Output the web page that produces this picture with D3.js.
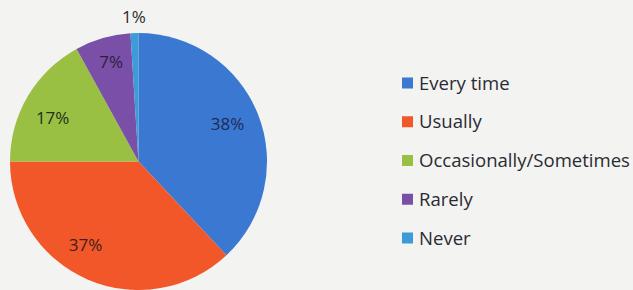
<!DOCTYPE html>
<html><head><meta charset="utf-8">
<script src="https://cdn.jsdelivr.net/npm/d3@7"></script>
<style>
html,body{margin:0;padding:0;background:#f3f3f1;}
svg{display:block;}
text{font-family:"Open Sans","Noto Sans",sans-serif;}
</style></head>
<body>
<svg id="c" width="633" height="290"></svg>
<script>
const categories = ["Every time","Usually","Occasionally/Sometimes","Rarely","Never"];
const values = [38,37,17,7,1];
const labels = ["38%","37%","17%","7%","1%"];
const colors = ["#3a78d2","#f2572a","#9ac043","#7a4fa8","#3d9bd8"];
const labelColors = ["#1f2a55","#3a2020","#22301a","#2a1f3a","#2b2b2b"];

const svg = d3.select("#c");
const cx = 138.5, cy = 161.5, r = 128.5;
const pie = d3.pie().sort(null).value(d=>d)(values);
const arc = d3.arc().innerRadius(0).outerRadius(r);
const g = svg.append("g").attr("transform",`translate(${cx},${cy})`);
g.selectAll("path").data(pie).join("path")
  .attr("d",arc).attr("fill",(d,i)=>colors[i]);

// label placement: fraction of radius and angular offset (deg) from slice bisector
const radF = [0.75,0.77,0.75,0.80,1.125];
const angOff = [-1,9,-3.6,0.8,0];
g.selectAll("text.lbl").data(pie).join("text").attr("class","lbl")
  .attr("transform",(d,i)=>{
    const a=(d.startAngle+d.endAngle)/2 + angOff[i]*Math.PI/180; const rr=r*radF[i];
    return `translate(${Math.sin(a)*rr},${-Math.cos(a)*rr})`;})
  .attr("text-anchor","middle").attr("dy","0.35em")
  .attr("font-size",17).attr("fill",(d,i)=>labelColors[i])
  .text((d,i)=>labels[i]);

const y = d3.scalePoint().domain(categories).range([83,238]);
const lg = svg.append("g");
const row = lg.selectAll("g").data(categories).join("g")
  .attr("transform",d=>`translate(402,${y(d)})`);
row.append("rect").attr("x",0).attr("y",-5.5).attr("width",11).attr("height",11)
  .attr("fill",(d,i)=>colors[i]);
row.append("text").attr("x",17).attr("dy","0.35em").attr("font-size",16)
  .attr("fill","#2b2b33").text(d=>d);
const t = row.selectAll("text").nodes()[2];
const w = t.getComputedTextLength();
row.selectAll("text").attr("font-size",16*211/w);
</script>
</body></html>
